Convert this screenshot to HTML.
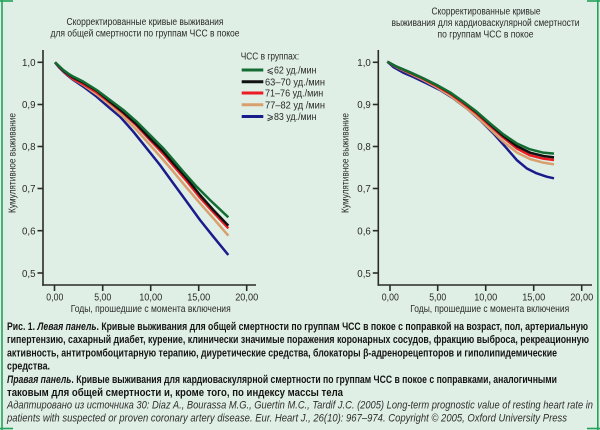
<!DOCTYPE html>
<html><head><meta charset="utf-8"><style>
html,body{margin:0;padding:0;background:#e0efe5;}
svg{display:block;}
.t{font-family:"Liberation Sans","DejaVu Sans",sans-serif;fill:#2a2a2a;}
.c{font-family:"Liberation Sans","DejaVu Sans",sans-serif;fill:#151515;font-weight:bold;}
.i{font-family:"Liberation Sans","DejaVu Sans",sans-serif;fill:#2e2e2e;font-style:italic;}
</style></head><body>
<svg width="600" height="430" viewBox="0 0 600 430" xmlns="http://www.w3.org/2000/svg">
<rect width="600" height="430" fill="#e0efe5"/>
<!-- border -->
<g stroke="#22a35a" stroke-width="1.6" fill="none">
<line x1="2" y1="0" x2="2" y2="430"/>
<line x1="0" y1="1" x2="13" y2="1"/>
<line x1="0" y1="428.5" x2="13" y2="428.5"/>
<line x1="597.8" y1="0" x2="597.8" y2="430"/>
<line x1="587" y1="1" x2="600" y2="1"/>
<line x1="587" y1="428.5" x2="600" y2="428.5"/>
</g>

<!-- LEFT PANEL -->
<text class="t" x="145" y="24.8" font-size="10" text-anchor="middle" textLength="157" lengthAdjust="spacingAndGlyphs">Скорректированные кривые выживания</text>
<text class="t" x="145" y="36.3" font-size="10" text-anchor="middle" textLength="189" lengthAdjust="spacingAndGlyphs">для общей смертности по  группам ЧСС в покое</text>

<g stroke="#2b2b2b" stroke-width="1.6" fill="none">
<line x1="43" y1="50" x2="43" y2="285.8"/>
<line x1="42.2" y1="285" x2="256" y2="285"/>
<line x1="37.5" y1="62.3" x2="43" y2="62.3"/>
<line x1="37.5" y1="104.5" x2="43" y2="104.5"/>
<line x1="37.5" y1="146.5" x2="43" y2="146.5"/>
<line x1="37.5" y1="188.5" x2="43" y2="188.5"/>
<line x1="37.5" y1="230.7" x2="43" y2="230.7"/>
<line x1="37.5" y1="273" x2="43" y2="273"/>
<line x1="54.5" y1="285" x2="54.5" y2="291"/>
<line x1="102.7" y1="285" x2="102.7" y2="291"/>
<line x1="150.7" y1="285" x2="150.7" y2="291"/>
<line x1="198.7" y1="285" x2="198.7" y2="291"/>
<line x1="246.7" y1="285" x2="246.7" y2="291"/>
</g>
<g class="t" font-size="10.5" text-anchor="end">
<text x="35.5" y="66.2" textLength="13.5" lengthAdjust="spacingAndGlyphs">1,0</text>
<text x="35.5" y="108.2" textLength="13.5" lengthAdjust="spacingAndGlyphs">0,9</text>
<text x="35.5" y="150.2" textLength="13.5" lengthAdjust="spacingAndGlyphs">0,8</text>
<text x="35.5" y="192.2" textLength="13.5" lengthAdjust="spacingAndGlyphs">0,7</text>
<text x="35.5" y="234.5" textLength="13.5" lengthAdjust="spacingAndGlyphs">0,6</text>
<text x="35.5" y="276.8" textLength="13.5" lengthAdjust="spacingAndGlyphs">0,5</text>
</g>
<g class="t" font-size="10.5" text-anchor="middle">
<text x="54.8" y="300.5" textLength="17" lengthAdjust="spacingAndGlyphs">0,00</text>
<text x="102.7" y="300.5" textLength="17" lengthAdjust="spacingAndGlyphs">5,00</text>
<text x="150.7" y="300.5" textLength="23" lengthAdjust="spacingAndGlyphs">10,00</text>
<text x="198.7" y="300.5" textLength="23" lengthAdjust="spacingAndGlyphs">15,00</text>
<text x="246.7" y="300.5" textLength="23" lengthAdjust="spacingAndGlyphs">20,00</text>
</g>
<text class="t" x="150.7" y="312" font-size="10" text-anchor="middle" textLength="160" lengthAdjust="spacingAndGlyphs">Годы, прошедшие с момента включения</text>
<text class="t" transform="translate(15.5,163) rotate(-90)" font-size="10" text-anchor="middle" textLength="100" lengthAdjust="spacingAndGlyphs">Кумулятивное выживание</text>

<!-- legend -->
<text class="t" x="240.7" y="59.7" font-size="10" textLength="58.5" lengthAdjust="spacingAndGlyphs">ЧСС в группах:</text>
<g stroke-width="3" fill="none">
<line x1="241.7" y1="70" x2="263.3" y2="70" stroke="#136d33"/>
<line x1="241.7" y1="81.7" x2="263.3" y2="81.7" stroke="#111"/>
<line x1="241.7" y1="93" x2="263.3" y2="93" stroke="#ec1c24"/>
<line x1="241.7" y1="104.7" x2="263.3" y2="104.7" stroke="#d7a06e"/>
<line x1="241.7" y1="116.5" x2="263.3" y2="116.5" stroke="#1a1c8c"/>
</g>
<g class="t" font-size="10">
<text x="266.5" y="73.7" textLength="50" lengthAdjust="spacingAndGlyphs">⩽62 уд./мин</text>
<text x="265" y="85.4" textLength="60" lengthAdjust="spacingAndGlyphs">63–70 уд./мин</text>
<text x="265" y="96.7" textLength="58.3" lengthAdjust="spacingAndGlyphs">71–76 уд./мин</text>
<text x="265" y="108.4" textLength="60" lengthAdjust="spacingAndGlyphs">77–82 уд /мин</text>
<text x="266.5" y="120.2" textLength="50" lengthAdjust="spacingAndGlyphs">⩾83 уд./мин</text>
</g>

<!-- left curves (zoom coords) -->
<g transform="translate(40,55) scale(0.33333)" fill="none" stroke-width="7.5" stroke-linejoin="round" stroke-linecap="butt">
<polyline stroke="#1a1c8c" points="45,22 58,38 70,50 85,63 100,75 130,95 170,125 210,160 240,185 280,230 320,280 360,330 400,385 440,440 480,495 520,545 565,600"/>
<polyline stroke="#d7a06e" points="45,22 58,36 70,48 85,61 100,73 130,90 170,118 210,150 250,185 290,225 330,270 370,315 400,350 440,398 480,445 520,490 565,542"/>
<polyline stroke="#ec1c24" points="45,22 58,36 70,48 85,61 100,72 130,88 170,112 210,143 250,175 290,212 330,255 370,297 400,332 440,378 480,428 520,472 565,520"/>
<polyline stroke="#111" points="45,22 58,35 70,47 85,58 100,68 130,83 170,107 210,140 250,172 290,208 330,250 370,290 400,325 440,370 480,420 520,465 565,512"/>
<polyline stroke="#136d33" points="45,22 58,34 70,45 85,56 100,65 130,80 170,105 210,135 250,165 290,200 330,240 370,280 400,315 430,350 470,395 510,435 565,487"/>
</g>

<!-- RIGHT PANEL -->
<text class="t" x="486" y="14.5" font-size="10" text-anchor="middle" textLength="109" lengthAdjust="spacingAndGlyphs">Скорректированные кривые</text>
<text class="t" x="485.5" y="26.2" font-size="10" text-anchor="middle" textLength="188" lengthAdjust="spacingAndGlyphs">выживания для кардиоваскулярной смертности</text>
<text class="t" x="485.5" y="37.7" font-size="10" text-anchor="middle" textLength="96" lengthAdjust="spacingAndGlyphs">по группам  ЧСС в покое</text>

<g stroke="#2b2b2b" stroke-width="1.6" fill="none">
<line x1="378.3" y1="50" x2="378.3" y2="285.8"/>
<line x1="377.5" y1="285" x2="592" y2="285"/>
<line x1="372.8" y1="62.3" x2="378.3" y2="62.3"/>
<line x1="372.8" y1="104.5" x2="378.3" y2="104.5"/>
<line x1="372.8" y1="146.5" x2="378.3" y2="146.5"/>
<line x1="372.8" y1="188.5" x2="378.3" y2="188.5"/>
<line x1="372.8" y1="230.7" x2="378.3" y2="230.7"/>
<line x1="372.8" y1="273" x2="378.3" y2="273"/>
<line x1="390" y1="285" x2="390" y2="291"/>
<line x1="437.7" y1="285" x2="437.7" y2="291"/>
<line x1="485.7" y1="285" x2="485.7" y2="291"/>
<line x1="533.7" y1="285" x2="533.7" y2="291"/>
<line x1="581.7" y1="285" x2="581.7" y2="291"/>
</g>
<g class="t" font-size="10.5" text-anchor="end">
<text x="370.8" y="66.2" textLength="13.5" lengthAdjust="spacingAndGlyphs">1,0</text>
<text x="370.8" y="108.2" textLength="13.5" lengthAdjust="spacingAndGlyphs">0,9</text>
<text x="370.8" y="150.2" textLength="13.5" lengthAdjust="spacingAndGlyphs">0,8</text>
<text x="370.8" y="192.2" textLength="13.5" lengthAdjust="spacingAndGlyphs">0,7</text>
<text x="370.8" y="234.5" textLength="13.5" lengthAdjust="spacingAndGlyphs">0,6</text>
<text x="370.8" y="276.8" textLength="13.5" lengthAdjust="spacingAndGlyphs">0,5</text>
</g>
<g class="t" font-size="10.5" text-anchor="middle">
<text x="390.3" y="300.5" textLength="17" lengthAdjust="spacingAndGlyphs">0,00</text>
<text x="437.7" y="300.5" textLength="17" lengthAdjust="spacingAndGlyphs">5,00</text>
<text x="485.7" y="300.5" textLength="23" lengthAdjust="spacingAndGlyphs">10,00</text>
<text x="533.7" y="300.5" textLength="23" lengthAdjust="spacingAndGlyphs">15,00</text>
<text x="581.7" y="300.5" textLength="23" lengthAdjust="spacingAndGlyphs">20,00</text>
</g>
<text class="t" x="489.7" y="312" font-size="10" text-anchor="middle" textLength="159" lengthAdjust="spacingAndGlyphs">Годы, прошедшие с момента включения</text>
<text class="t" transform="translate(348.7,163) rotate(-90)" font-size="10" text-anchor="middle" textLength="100" lengthAdjust="spacingAndGlyphs">Кумулятивное выживание</text>

<!-- right curves -->
<g transform="translate(380,55) scale(0.33333)" fill="none" stroke-width="7.5" stroke-linejoin="round">
<polyline stroke="#1a1c8c" points="22,20 40,36 70,53 100,66 140,85 180,105 220,130 260,160 300,195 340,235 380,280 410,315 440,340 470,355 500,365 522,370"/>
<polyline stroke="#d7a06e" points="22,20 50,37 90,56 130,75 170,97 210,122 250,152 290,185 330,222 370,260 410,292 450,312 490,323 522,328"/>
<polyline stroke="#ec1c24" points="22,20 50,36 90,54 130,72 170,93 210,116 250,145 290,176 330,212 370,248 410,280 450,301 490,311 522,315"/>
<polyline stroke="#111" points="22,20 50,35 90,52 130,70 170,90 210,113 250,141 290,172 330,208 370,243 410,273 450,293 490,303 522,307"/>
<polyline stroke="#136d33" points="22,20 50,35 90,52 130,70 170,90 210,112 250,140 290,170 330,205 370,238 410,265 450,283 490,293 522,296"/>
</g>

<!-- CAPTION -->
<text class="c" x="7" y="330.2" font-size="11" textLength="581" lengthAdjust="spacingAndGlyphs">Рис. 1. <tspan font-style="italic">Левая панель</tspan>. Кривые выживания для общей смертности по группам ЧСС в покое с поправкой на возраст, пол, артериальную</text>
<text class="c" x="7" y="343.2" font-size="11" textLength="582" lengthAdjust="spacingAndGlyphs">гипертензию, сахарный диабет, курение, клинически значимые поражения коронарных сосудов, фракцию выброса, рекреационную</text>
<text class="c" x="7" y="356.5" font-size="11" textLength="550" lengthAdjust="spacingAndGlyphs">активность, антитромбоцитарную терапию, диуретические средства, блокаторы β-адренорецепторов и гиполипидемические</text>
<text class="c" x="7" y="369.7" font-size="11" textLength="43" lengthAdjust="spacingAndGlyphs">средства.</text>
<text class="c" x="7" y="383.2" font-size="11" textLength="550" lengthAdjust="spacingAndGlyphs"><tspan font-style="italic">Правая панель</tspan>. Кривые выживания для кардиоваскулярной смертности по группам ЧСС в покое с поправками, аналогичными</text>
<text class="c" x="7" y="396" font-size="11" textLength="336" lengthAdjust="spacingAndGlyphs">таковым для общей смертности и, кроме того, по индексу массы тела</text>
<text class="i" x="7" y="408.5" font-size="10.8" textLength="586" lengthAdjust="spacingAndGlyphs">Адаптировано из источника 30: Diaz A., Bourassa M.G., Guertin M.C., Tardif J.C. (2005) Long-term prognostic value of resting heart rate in</text>
<text class="i" x="7" y="421.5" font-size="10.8" textLength="560" lengthAdjust="spacingAndGlyphs">patients with suspected or proven coronary artery disease. Eur. Heart J., 26(10): 967–974. Copyright © 2005, Oxford University Press</text>
</svg>
</body></html>
